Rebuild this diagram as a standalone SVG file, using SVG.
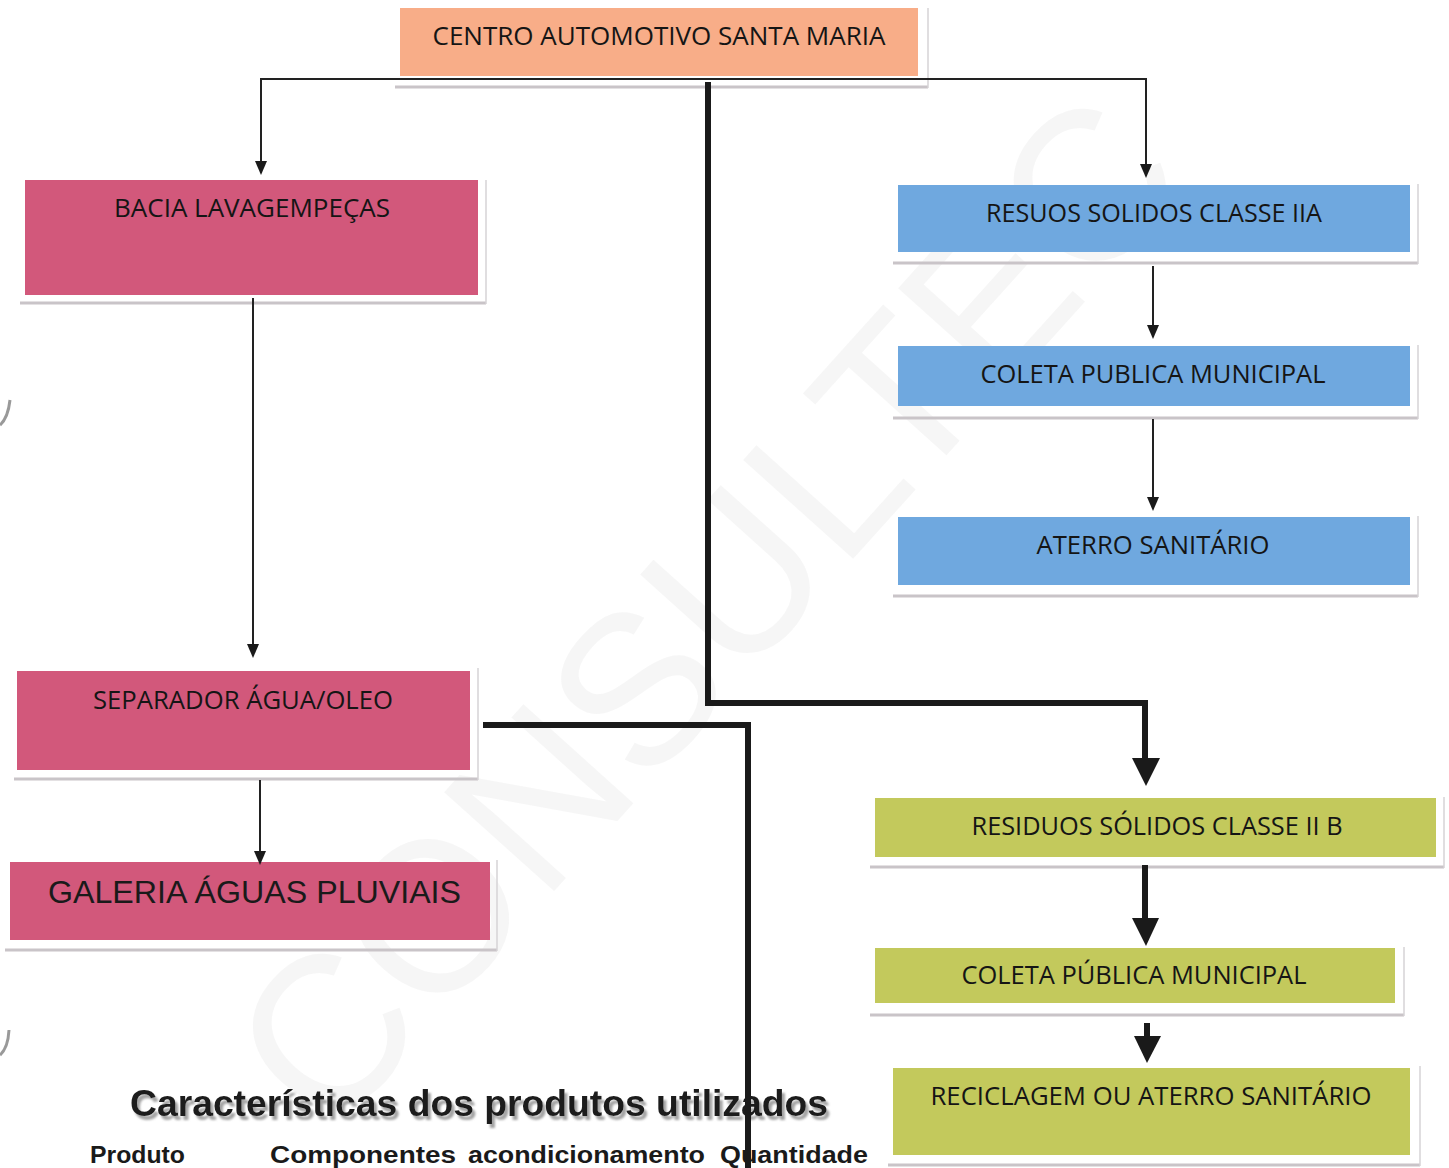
<svg xmlns="http://www.w3.org/2000/svg" width="1449" height="1168" viewBox="0 0 1449 1168">
<defs>
<filter id="txtshadow" x="-5%" y="-30%" width="110%" height="160%">
<feDropShadow dx="3" dy="4" stdDeviation="1" flood-color="#8c8c8c" flood-opacity="0.8"/>
</filter>
</defs>
<style>
.lbl{font-family:"Open Sans","Liberation Sans",sans-serif;font-size:25px;fill:#151515;text-anchor:middle}
.arial{font-family:"Liberation Sans",Arial,sans-serif;fill:#1a1a1a}
.salmon{fill:#f8ad88}
.pink{fill:#d2587b}
.blue{fill:#6fa8df}
.green{fill:#c3c95c}
.shb{stroke:#c9c4c8;stroke-width:3;fill:none}
.shr{stroke:#d6d3d6;stroke-width:1.5;fill:none}
.thin{stroke:#222;stroke-width:2;fill:none}
.thick{stroke:#1a1a1a;stroke-width:6;fill:none}
.head{fill:#1a1a1a}
</style>
<rect width="1449" height="1168" fill="#ffffff"/>
<g id="watermark" opacity="0.35">
<text x="330" y="1140" transform="rotate(-48 330 1140)" font-family="Liberation Sans, sans-serif" font-size="215" fill="#e6e6e6" textLength="1290" lengthAdjust="spacingAndGlyphs">CONSULTEC</text>
</g>
<g id="edge-marks" fill="none" stroke="#555" stroke-width="3" opacity="0.6">
<path d="M0 425 Q8 418 10 400"/>
<path d="M0 1055 Q8 1048 9 1030"/>
</g>
<g id="node-centro">
<path class="shb" d="M395 87 H928" stroke="#e8c4b8"/>
<path class="shr" d="M928 8 V88"/>
<rect class="salmon" x="400" y="8" width="518" height="68"/>
<text class="lbl" x="659" y="45" textLength="453" lengthAdjust="spacingAndGlyphs">CENTRO AUTOMOTIVO SANTA MARIA</text>
</g>
<g id="node-bacia">
<path class="shb" d="M20 303 H486" stroke="#d9b6c2"/>
<path class="shr" d="M486 180 V304"/>
<rect class="pink" x="25" y="180" width="453" height="115"/>
<text class="lbl" x="252" y="217" textLength="276" lengthAdjust="spacingAndGlyphs">BACIA LAVAGEMPEÇAS</text>
</g>
<g id="node-separador">
<path class="shb" d="M14 779 H478" stroke="#d9b6c2"/>
<path class="shr" d="M478 668 V780"/>
<rect class="pink" x="17" y="671" width="453" height="99"/>
<text class="lbl" x="243" y="709" textLength="300" lengthAdjust="spacingAndGlyphs">SEPARADOR ÁGUA/OLEO</text>
</g>
<g id="node-galeria">
<path class="shb" d="M5 950 H497" stroke="#d9b6c2"/>
<path class="shr" d="M497 860 V951"/>
<rect class="pink" x="10" y="862" width="480" height="78"/>
<text class="arial" x="48" y="903" font-size="31" textLength="413" lengthAdjust="spacingAndGlyphs">GALERIA ÁGUAS PLUVIAIS</text>
</g>
<g id="node-resuos">
<path class="shb" d="M893 263 H1418"/>
<path class="shr" d="M1418 184 V264"/>
<rect class="blue" x="898" y="185" width="512" height="67"/>
<text class="lbl" x="1154" y="222" textLength="336" lengthAdjust="spacingAndGlyphs">RESUOS SOLIDOS CLASSE IIA</text>
</g>
<g id="node-coleta1">
<path class="shb" d="M893 418 H1418"/>
<path class="shr" d="M1418 345 V419"/>
<rect class="blue" x="898" y="346" width="512" height="60"/>
<text class="lbl" x="1153" y="383" textLength="345" lengthAdjust="spacingAndGlyphs">COLETA PUBLICA MUNICIPAL</text>
</g>
<g id="node-aterro">
<path class="shb" d="M893 596 H1418"/>
<path class="shr" d="M1418 516 V597"/>
<rect class="blue" x="898" y="517" width="512" height="68"/>
<text class="lbl" x="1153" y="554" textLength="233" lengthAdjust="spacingAndGlyphs">ATERRO SANITÁRIO</text>
</g>
<g id="node-residuos2b">
<path class="shb" d="M870 867 H1444"/>
<path class="shr" d="M1444 797 V868"/>
<rect class="green" x="875" y="798" width="561" height="59"/>
<text class="lbl" x="1157" y="835" textLength="371" lengthAdjust="spacingAndGlyphs">RESIDUOS SÓLIDOS CLASSE II B</text>
</g>
<g id="node-coleta2">
<path class="shb" d="M870 1015 H1404"/>
<path class="shr" d="M1404 947 V1016"/>
<rect class="green" x="875" y="948" width="520" height="55"/>
<text class="lbl" x="1134" y="984" textLength="345" lengthAdjust="spacingAndGlyphs">COLETA PÚBLICA MUNICIPAL</text>
</g>
<g id="node-reciclagem">
<path class="shb" d="M888 1165 H1420"/>
<path class="shr" d="M1420 1066 V1166"/>
<rect class="green" x="893" y="1068" width="517" height="87"/>
<text class="lbl" x="1151" y="1105" textLength="441" lengthAdjust="spacingAndGlyphs">RECICLAGEM OU ATERRO SANITÁRIO</text>
</g>
<g id="caption">
<text class="arial" x="130" y="1116" font-size="37" font-weight="bold" textLength="698" lengthAdjust="spacingAndGlyphs" filter="url(#txtshadow)">Características dos produtos utilizados</text>
<text class="arial" x="90" y="1163" font-size="23" font-weight="bold" textLength="95" lengthAdjust="spacingAndGlyphs">Produto</text>
<text class="arial" x="270" y="1163" font-size="23" font-weight="bold" textLength="186" lengthAdjust="spacingAndGlyphs">Componentes</text>
<text class="arial" x="468" y="1163" font-size="23" font-weight="bold" textLength="237" lengthAdjust="spacingAndGlyphs">acondicionamento</text>
<text class="arial" x="720" y="1163" font-size="23" font-weight="bold" textLength="148" lengthAdjust="spacingAndGlyphs">Quantidade</text>
</g>
<g id="connectors">
<path class="thin" d="M261 162 V79 H1146 V165"/>
<polygon class="head" points="255,161 267,161 261,175"/>
<polygon class="head" points="1140,164 1152,164 1146,178"/>
<path class="thin" d="M253 298 V645"/>
<polygon class="head" points="247,644 259,644 253,658"/>
<path class="thin" d="M260 780 V852"/>
<polygon class="head" points="254,851 266,851 260,865"/>
<path class="thin" d="M1153 266 V326"/>
<polygon class="head" points="1147,325 1159,325 1153,339"/>
<path class="thin" d="M1153 419 V498"/>
<polygon class="head" points="1147,497 1159,497 1153,511"/>
<path class="thick" d="M708 82 V703 H1145 V760"/>
<polygon class="head" points="1132,758 1160,758 1146,786"/>
<path class="thick" d="M483 725 H748 V1168"/>
<path class="thick" d="M1145 865 V922"/>
<polygon class="head" points="1132,918 1159,918 1146,946"/>
<path class="thick" d="M1147 1023 V1040"/>
<polygon class="head" points="1134,1036 1161,1036 1147,1063"/>
</g>
</svg>
